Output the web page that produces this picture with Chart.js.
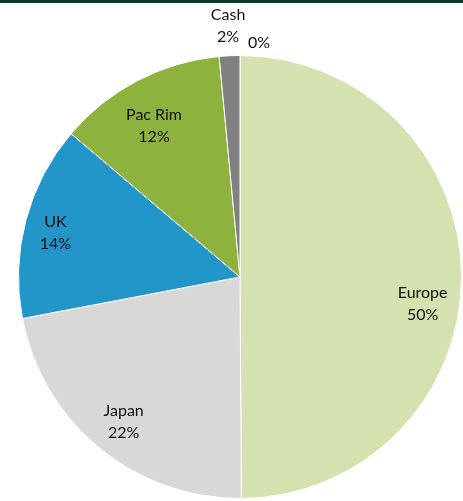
<!DOCTYPE html>
<html>
<head>
<meta charset="utf-8">
<script src="https://cdn.jsdelivr.net/npm/chart.js@4"></script>
<style>
  html, body { margin: 0; padding: 0; background: #fff; }
  #wrap { position: relative; width: 463px; height: 501px; }
  #topbar { position: absolute; left: 0; top: 0; width: 463px; height: 3px; background: #0c3d2b; }
</style>
</head>
<body>
<div id="wrap">
  <canvas id="alloc" width="463" height="501"></canvas>
  <div id="topbar"></div>
</div>
<script>
  // Regional allocation
  const regions = ['Europe', 'Japan', 'UK', 'Pac Rim', 'Cash', ''];
  const weights = [49.9, 22.1, 14.2, 12.3, 1.5, 0];
  const sliceColors = ['#d3e2ae', '#d8d8d8', '#2295c9', '#8db23e', '#808080', '#bfbfbf'];

  // labels inside the slices, small ones above the pie
  const labelNudge = [[1, 27], [-1, 5], [-9, 2], [-2, 10], [0, 1], [0, 0]];
  const sliceLabels = {
    id: 'sliceLabels',
    afterDatasetsDraw(chart) {
      const ctx = chart.ctx;
      const arcs = chart.getDatasetMeta(0).data;
      ctx.save();
      ctx.font = '16px Lato';
      ctx.fillStyle = '#111111';
      ctx.textBaseline = 'middle';
      arcs.forEach((arc, i) => {
        const p = arc.getProps(['x', 'y', 'startAngle', 'endAngle', 'outerRadius'], true);
        const mid = (p.startAngle + p.endAngle) / 2;
        const pct = Math.round(weights[i]) + '%';
        if (weights[i] === 0) {
          ctx.textAlign = 'left';
          ctx.fillText(pct, p.x + 8, p.y - p.outerRadius - 13);
          return;
        }
        const f = weights[i] < 5 ? 1.14 : 0.82;
        const x = p.x + Math.cos(mid) * p.outerRadius * f + labelNudge[i][0];
        const y = p.y + Math.sin(mid) * p.outerRadius * f + labelNudge[i][1];
        ctx.textAlign = 'center';
        ctx.fillText(regions[i], x, y - 11);
        ctx.fillText(pct, x, y + 11);
      });
      ctx.restore();
    }
  };

  const ctxAlloc = document.getElementById('alloc').getContext('2d');
  const allocChart = new Chart(ctxAlloc, {
    type: 'pie',
    data: {
      labels: regions,
      datasets: [{
        data: weights,
        backgroundColor: sliceColors,
        borderColor: '#ffffff',
        borderWidth: 1
      }]
    },
    options: {
      responsive: false,
      animation: false,
      layout: {
        padding: { left: 18, right: 1, top: 55, bottom: 2 }
      },
      plugins: {
        legend: { display: false },
        tooltip: { enabled: false }
      }
    },
    plugins: [sliceLabels]
  });
</script>
</body>
</html>
